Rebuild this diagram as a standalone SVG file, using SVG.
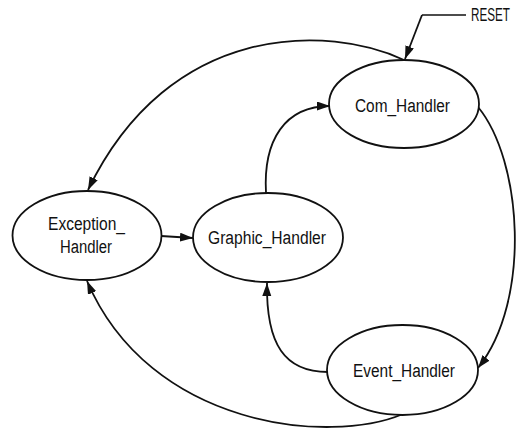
<svg xmlns="http://www.w3.org/2000/svg" width="519" height="437" viewBox="0 0 519 437">
  <style>
    .state { fill: #ffffff; stroke: #111111; stroke-width: 1.8; }
    .label { font-family: "Liberation Sans", Arial, sans-serif; font-size: 18px; fill: #111111; text-anchor: start; }
    .edge { fill: none; stroke: #111111; stroke-width: 1.8; marker-end: url(#arrow); }
    .plain { fill: none; stroke: #111111; stroke-width: 1.6; }
  </style>
  <defs>
    <marker id="arrow" markerUnits="userSpaceOnUse" markerWidth="14" markerHeight="10" refX="13" refY="4.5" orient="auto">
      <path d="M0,0 L13,4.5 L0,9 z" fill="#111111"/>
    </marker>
  </defs>
  <rect width="519" height="437" fill="#ffffff"/>

  <!-- transitions -->
  <g id="connectors">
    <!-- reset entry -->
    <path class="plain" d="M466,15 L422,15"/>
    <path class="edge" d="M422,15 L405,59"/>
    <!-- Com_Handler -> Exception_Handler -->
    <path class="edge" d="M404,60 C330,25 170,20 88,190"/>
    <!-- Com_Handler -> Event_Handler -->
    <path class="edge" d="M478,107 C522,160 532,300 478,368"/>
    <!-- Exception_Handler -> Graphic_Handler -->
    <path class="edge" d="M161,236 L193,238"/>
    <!-- Graphic_Handler -> Com_Handler -->
    <path class="edge" d="M266,193 C263,140 285,106 330,106"/>
    <!-- Event_Handler -> Graphic_Handler -->
    <path class="edge" d="M328,372 C285,372 266,345 267,283"/>
    <!-- Event_Handler -> Exception_Handler -->
    <path class="edge" d="M403,414 C330,445 150,428 87,281"/>
  </g>

  <text class="label" x="471" y="21" font-size="14" textLength="39" lengthAdjust="spacingAndGlyphs">RESET</text>

  <g id="com_handler">
    <ellipse class="state" cx="404" cy="104" rx="75" ry="44"/>
    <text class="label" x="355" y="112" textLength="95" lengthAdjust="spacingAndGlyphs">Com_Handler</text>
  </g>

  <g id="exception_handler">
    <ellipse class="state" cx="87" cy="235.5" rx="74.5" ry="44.5"/>
    <text class="label" x="48" y="230" textLength="77" lengthAdjust="spacingAndGlyphs">Exception_</text>
    <text class="label" x="60" y="253" textLength="52" lengthAdjust="spacingAndGlyphs">Handler</text>
  </g>

  <g id="graphic_handler">
    <ellipse class="state" cx="268" cy="237.5" rx="75" ry="44.5"/>
    <text class="label" x="208" y="244" textLength="118" lengthAdjust="spacingAndGlyphs">Graphic_Handler</text>
  </g>

  <g id="event_handler">
    <ellipse class="state" cx="402.5" cy="370" rx="75.5" ry="45"/>
    <text class="label" x="353" y="377" textLength="102" lengthAdjust="spacingAndGlyphs">Event_Handler</text>
  </g>
</svg>
